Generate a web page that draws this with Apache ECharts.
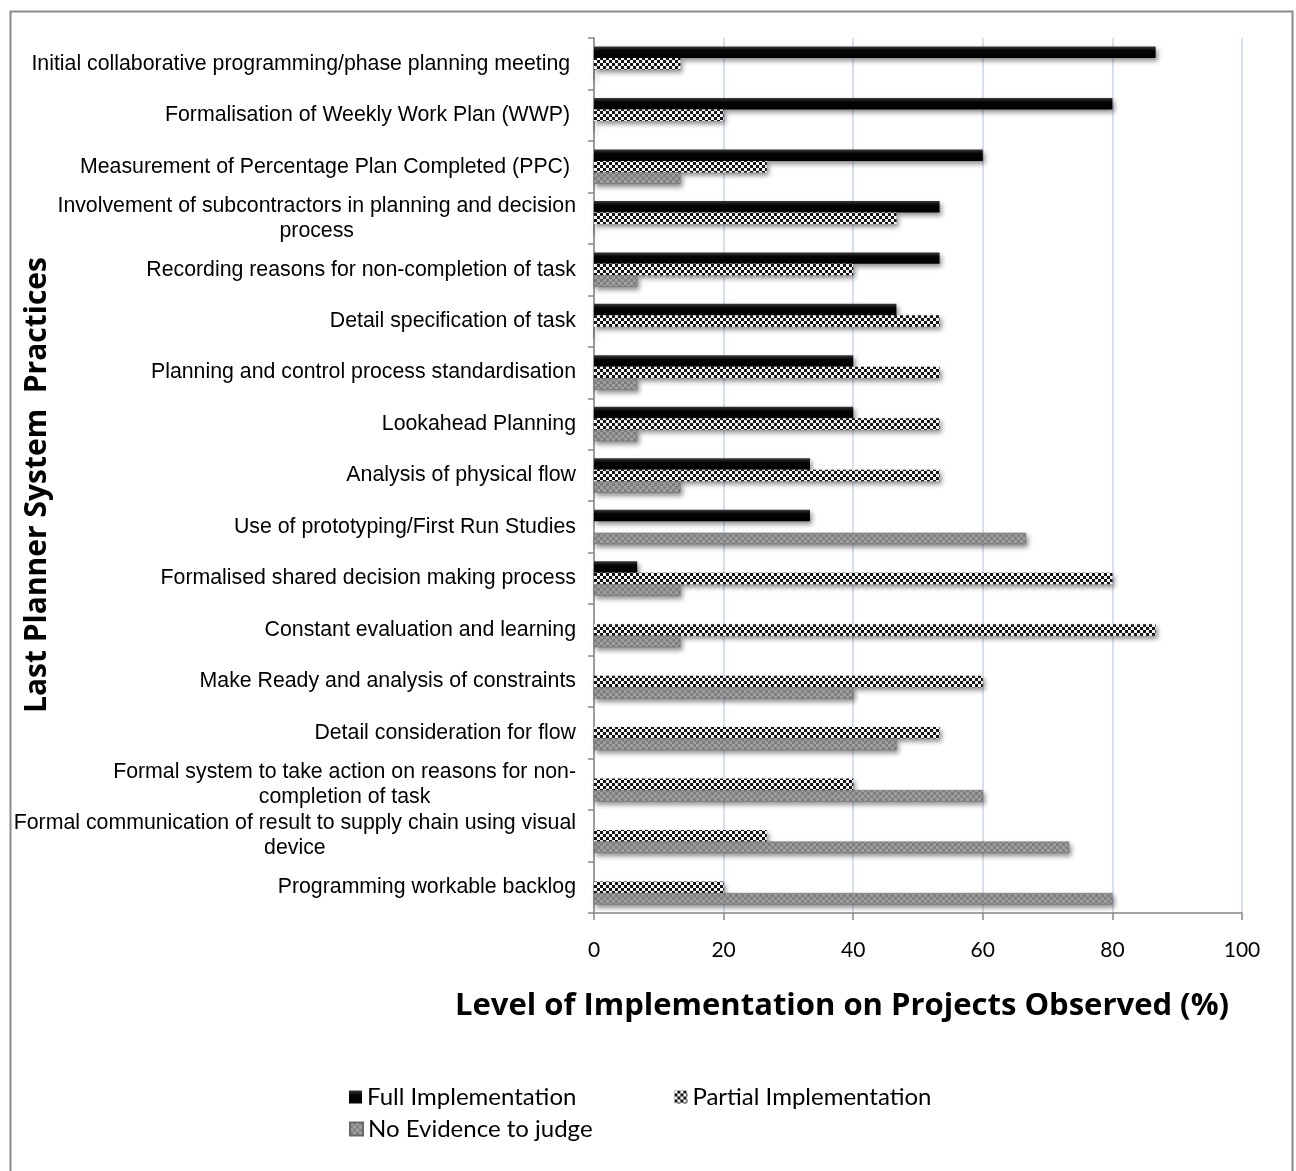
<!DOCTYPE html>
<html>
<head>
<meta charset="utf-8">
<script src="https://cdn.jsdelivr.net/npm/echarts@6/dist/echarts.min.js"></script>
<style>
html,body{margin:0;padding:0;background:#fff;}
#chart{width:1296px;height:1171px;}
</style>
</head>
<body>
<div id="chart"></div>
<script>
// ---------- DATA ----------
const categories = [
  "Initial collaborative programming/phase planning meeting ",
  "Formalisation of Weekly Work Plan (WWP) ",
  "Measurement of Percentage Plan Completed (PPC) ",
  "Involvement of subcontractors in planning and decision\nprocess",
  "Recording reasons for non-completion of task",
  "Detail specification of task",
  "Planning and control process standardisation",
  "Lookahead Planning",
  "Analysis of physical flow",
  "Use of prototyping/First Run Studies",
  "Formalised shared decision making process",
  "Constant evaluation and learning",
  "Make Ready and analysis of constraints",
  "Detail consideration for flow",
  "Formal system to take action on reasons for non-\ncompletion of task",
  "Formal communication of result to supply chain using visual\ndevice",
  "Programming workable backlog"
];
const fullImplementation    = [86.67, 80, 60, 53.33, 53.33, 46.67, 40, 40, 33.33, 33.33, 6.67, 0, 0, 0, 0, 0, 0];
const partialImplementation = [13.33, 20, 26.67, 46.67, 40, 53.33, 53.33, 53.33, 53.33, 0, 80, 86.67, 60, 53.33, 40, 26.67, 20];
const noEvidence            = [0, 0, 13.33, 0, 6.67, 0, 6.67, 6.67, 13.33, 66.67, 13.33, 13.33, 40, 46.67, 60, 73.33, 80];
const xTicks = [0, 20, 40, 60, 80, 100];
const seriesNames = ["Full Implementation", "Partial Implementation", "No Evidence to judge"];
const xTitle = "Level of Implementation on Projects Observed (%)";
const yTitle = "Last Planner System  Practices";

// ---------- PATTERNS ----------
function checker(size, c1, c2) {
  const cv = document.createElement('canvas');
  cv.width = size * 2; cv.height = size * 2;
  const g = cv.getContext('2d');
  g.fillStyle = c1; g.fillRect(0, 0, size * 2, size * 2);
  g.fillStyle = c2;
  g.fillRect(0, 0, size, size);
  g.fillRect(size, size, size, size);
  return cv;
}
const partialPattern = { image: checker(3, '#141414', '#f4f4f4'), repeat: 'repeat' };
const nePattern = { image: checker(3, '#828282', '#a2a2a2'), repeat: 'repeat' };
const fullGradient = new echarts.graphic.LinearGradient(0, 0, 0, 1, [
  { offset: 0, color: '#3a3a3a' },
  { offset: 0.35, color: '#050505' },
  { offset: 1, color: '#000000' }
]);

const shadow = { shadowColor: 'rgba(0,0,0,0.45)', shadowBlur: 5, shadowOffsetX: 2, shadowOffsetY: 3 };

const chart = echarts.init(document.getElementById('chart'), null, { renderer: 'canvas' });

const labelFont = 'Liberation Sans';
const labelSize = 21.3;
const option = {
  animation: false,
  backgroundColor: '#ffffff',
  graphic: [{
    type: 'rect', left: 8, top: 9, z: -1,
    shape: { width: 1282, height: 1200 },
    style: { fill: 'none', stroke: '#8a8a8a', lineWidth: 2 }
  }, {
    type: 'text', x: 842, y: 1006,
    style: { text: xTitle, font: 'bold 31px "Open Sans"', fill: '#000', align: 'center', verticalAlign: 'middle',
             textAlign: 'center', textVerticalAlign: 'middle' }
  }, {
    type: 'text', x: 37, y: 485, rotation: Math.PI / 2,
    style: { text: yTitle, font: 'bold 30px "Open Sans"', fill: '#000', align: 'center', verticalAlign: 'middle',
             textAlign: 'center', textVerticalAlign: 'middle' }
  }],
  grid: { left: 594, right: 54, top: 38, bottom: 258, containLabel: false },
  legend: [{
    data: [seriesNames[0], seriesNames[1]],
    left: 344, top: 1080,
    itemWidth: 13, itemHeight: 13, itemGap: 98,
    icon: 'rect',
    textStyle: { fontFamily: 'Lato', fontSize: 24, color: '#000' }
  }, {
    data: [seriesNames[2]],
    left: 344, top: 1112,
    itemWidth: 13, itemHeight: 13,
    icon: 'rect',
    textStyle: { fontFamily: 'Lato', fontSize: 24, color: '#000' }
  }],
  xAxis: {
    type: 'value', min: 0, max: 100, interval: 20,
    axisLine: { show: true, lineStyle: { color: '#868686', width: 1.5 } },
    axisTick: { show: true, length: 7, lineStyle: { color: '#868686', width: 1.5 } },
    axisLabel: { margin: 27, fontFamily: 'Lato', fontSize: 21, color: '#000',
      formatter: v => xTicks.indexOf(v) >= 0 ? String(v) : '' },
    splitLine: { show: true, lineStyle: { color: '#c8d6e8', width: 1.5 } }
  },
  yAxis: {
    type: 'category', inverse: true, data: categories,
    axisLine: { show: true, lineStyle: { color: '#868686', width: 1.5 } },
    axisTick: { show: true, length: 6, lineStyle: { color: '#868686', width: 1.5 } },
    axisLabel: {
      margin: 18,
      fontFamily: labelFont, fontSize: labelSize, color: '#000', lineHeight: 25,
      formatter: v => v.split('\n').map(l => '{c|' + l + '}').join('\n'),
      rich: { c: { align: 'center', fontFamily: labelFont, fontSize: labelSize, lineHeight: 25, color: '#000' } }
    },
    splitLine: { show: false }
  },
  series: [{
    name: seriesNames[0], type: 'bar', data: fullImplementation,
    barGap: '0%', barCategoryGap: '33%',
    itemStyle: Object.assign({ color: fullGradient }, shadow)
  }, {
    name: seriesNames[1], type: 'bar', data: partialImplementation,
    barGap: '0%', barCategoryGap: '33%',
    itemStyle: Object.assign({ color: partialPattern }, shadow)
  }, {
    name: seriesNames[2], type: 'bar', data: noEvidence,
    barGap: '0%', barCategoryGap: '33%',
    itemStyle: Object.assign({ color: nePattern, borderColor: '#6a6a6a', borderWidth: 0.5 }, shadow)
  }]
};
chart.setOption(option);
</script>
</body>
</html>
